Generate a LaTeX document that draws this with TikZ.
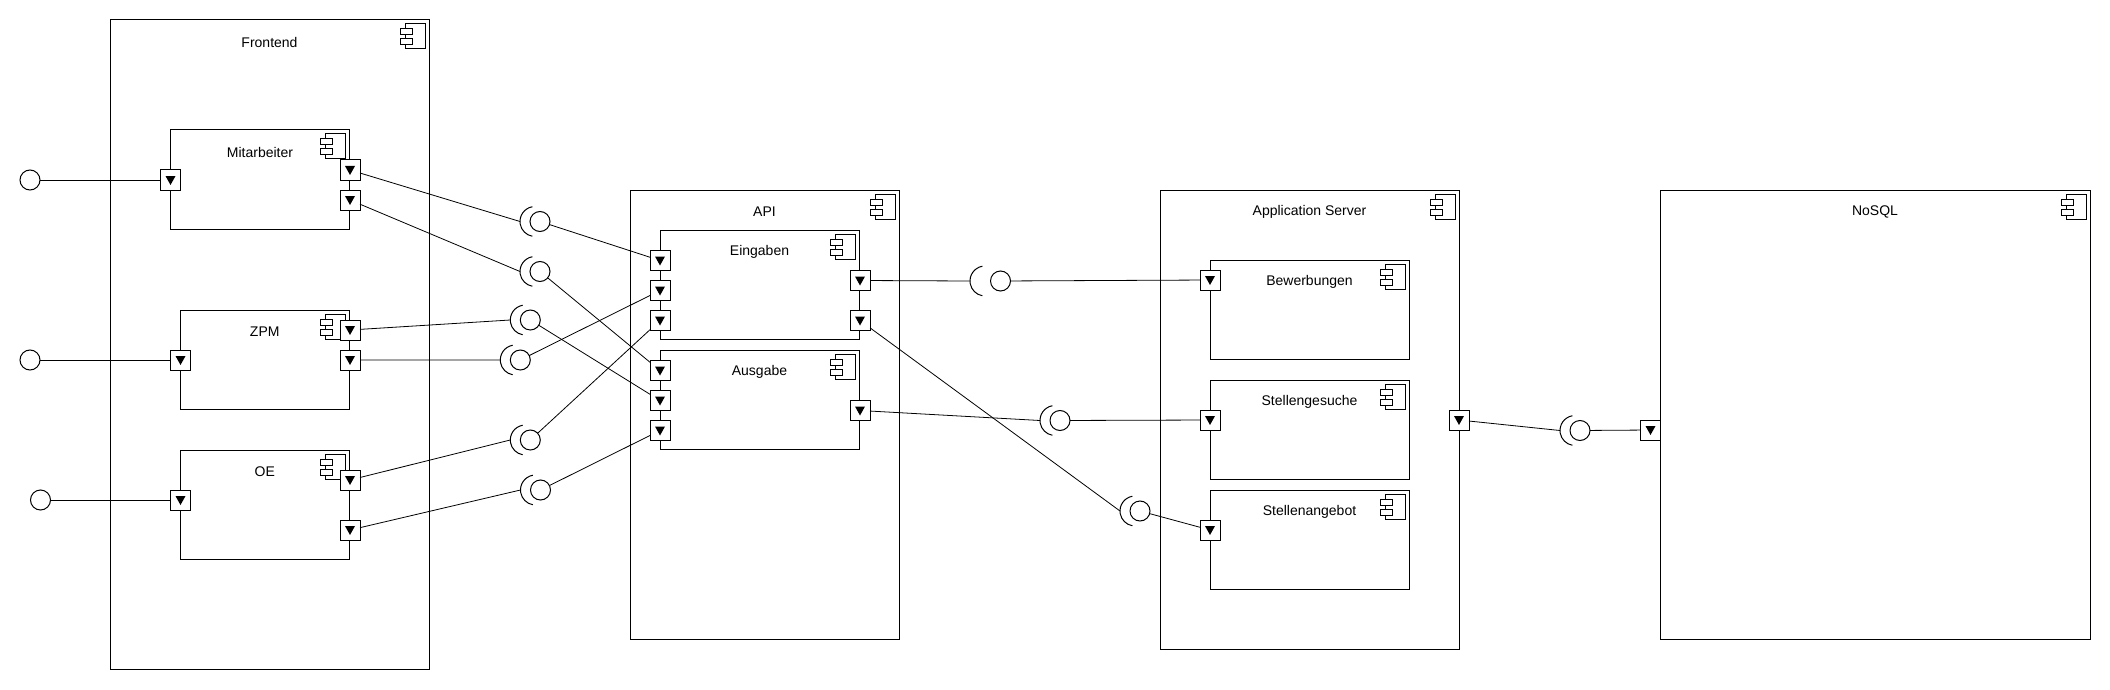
\documentclass[tikz,border=0pt]{standalone}
\usepackage{fontspec}
\setmainfont{Liberation Sans}

% small component symbol in the upper right corner of a box
\newcommand{\compicon}[1]{%
  \draw[fill=white] ([shift={(-24pt,-4pt)}]#1.north east) rectangle ++(20pt,-25pt);
  \draw[fill=white] ([shift={(-29pt,-9pt)}]#1.north east) rectangle ++(12pt,-6pt);
  \draw[fill=white] ([shift={(-29pt,-19pt)}]#1.north east) rectangle ++(12pt,-6pt);
}
% ball and socket: #1 number, #2 ball centre, #3 gap ball -> socket
\newcommand{\iface}[3]{%
  \node[ball] (ball#1) at (#2) {};
  \coordinate (sock#1) at ([xshift={-(#3+15)*1pt}]ball#1.center);
  \draw ([xshift=15pt]sock#1) ++(100:15pt) arc[start angle=100, end angle=260, radius=15pt];
}

\begin{document}
\begin{tikzpicture}[x=1pt, y=-1pt, line width=1pt,
  comp/.style={draw, fill=white, rectangle, anchor=north west, inner sep=0pt, outer sep=0pt},
  port/.style={draw, fill=white, rectangle, minimum size=20pt, inner sep=0pt, outer sep=0pt,
    path picture={\fill[black] ([shift={(-5pt,4pt)}]path picture bounding box.center)
      -- ++(10pt,0pt) -- ++(-5pt,-9pt) -- cycle;}},
  ball/.style={draw, fill=white, circle, minimum size=20pt, inner sep=0pt, outer sep=0pt},
  title/.style={font=\fontsize{14}{16}\selectfont},
  wire/.style={line width=0.8pt}]

\fill[white] (0,0) rectangle (2110,690);
\useasboundingbox (0,0) rectangle (2110,690);

%%%%%%%%%%%%%%%%%%%%%%%%%%%%%%%%%%%%%%%%%%%%
\node[comp, minimum width=319pt, minimum height=649pt] (frontend) at (110,20) {};
\node[comp, minimum width=269pt, minimum height=449pt] (api) at (630,190) {};
\node[comp, minimum width=299pt, minimum height=459pt] (appserver) at (1160,190) {};
\node[comp, minimum width=430pt, minimum height=449pt] (nosql) at (1660,190) {};

\node[comp, minimum width=179pt, minimum height=99pt] (mitarbeiter) at (170.5,130) {};
\node[comp, minimum width=169.5pt, minimum height=99pt] (zpm) at (180,310) {};
\node[comp, minimum width=169.5pt, minimum height=109pt] (oe) at (180,450) {};
\node[comp, minimum width=199pt, minimum height=109pt] (eingaben) at (660,230) {};
\node[comp, minimum width=199pt, minimum height=99pt] (ausgabe) at (660,350) {};
\node[comp, minimum width=199pt, minimum height=99pt] (bewerbungen) at (1210,260) {};
\node[comp, minimum width=199pt, minimum height=99pt] (stellengesuche) at (1210,380) {};
\node[comp, minimum width=199pt, minimum height=99pt] (stellenangebot) at (1210,490) {};

\foreach \n/\t in {frontend/Frontend, api/API, appserver/Application Server, nosql/NoSQL,
    mitarbeiter/Mitarbeiter, zpm/ZPM, oe/OE, eingaben/Eingaben, ausgabe/Ausgabe,
    bewerbungen/Bewerbungen, stellengesuche/Stellengesuche, stellenangebot/Stellenangebot}{
  \node[title] (\n-label) at ([yshift=-22pt]\n.north) {\t};
  \compicon{\n}
}

%%%%%%%%%%%%%%%%%%%%%%%%%%%%%%%%%%%%%%%%%%%%
\node[port] (mit-in) at (170.5,180) {};
\node[port] (mit-out1) at (350,170) {};
\node[port] (mit-out2) at (350,200) {};
\node[port] (zpm-in) at (180.5,360) {};
\node[port] (zpm-out1) at (350,330) {};
\node[port] (zpm-out2) at (350,360) {};
\node[port] (oe-in) at (180.5,500) {};
\node[port] (oe-out1) at (350,480) {};
\node[port] (oe-out2) at (350,530) {};

\foreach \i/\y in {1/260.5, 2/290.5, 3/320.5}
  \node[port] (ein-in\i) at (660,\y) {};
\node[port] (ein-out1) at (860,280.5) {};
\node[port] (ein-out2) at (860,320.5) {};
\foreach \i/\y in {1/370.5, 2/400.5, 3/430.5}
  \node[port] (aus-in\i) at (660,\y) {};
\node[port] (aus-out) at (860,410.5) {};

\node[port] (bew-in) at (1210,280) {};
\node[port] (stg-in) at (1210,420) {};
\node[port] (sta-in) at (1210,530) {};
\node[port] (app-out) at (1459,420) {};
\node[port] (nosql-in) at (1650.5,430) {};

%%%%%%%%%%%%%%%%%%%%%%%%%%%%%%%%%%%%%%%%%%%%
\node[ball] (lol1) at (30,180) {};
\node[ball] (lol2) at (30,360) {};
\node[ball] (lol3) at (40.5,500) {};
\draw[wire] (lol1) -- (mit-in);
\draw[wire] (lol2) -- (zpm-in);
\draw[wire] (lol3) -- (oe-in);

\iface{1}{540,221.5}{5}
\iface{2}{540,271.5}{5}
\iface{3}{530.3,320}{5}
\iface{4}{520.3,360}{5}
\iface{5}{530.3,440}{5}
\iface{6}{540.5,490}{5}
\iface{7}{1000.5,281}{15.5}
\iface{8}{1060,420.5}{5}
\iface{9}{1140,511}{5}
\iface{10}{1580,430.5}{5}

\foreach \p/\n/\q in {mit-out1/1/ein-in1, mit-out2/2/aus-in1, zpm-out1/3/aus-in2,
    zpm-out2/4/ein-in2, oe-out1/5/ein-in3, oe-out2/6/aus-in3, ein-out1/7/bew-in,
    aus-out/8/stg-in, ein-out2/9/sta-in, app-out/10/nosql-in}
  \draw[wire] (\p) -- (sock\n) (ball\n) -- (\q);

\end{tikzpicture}
\end{document}
